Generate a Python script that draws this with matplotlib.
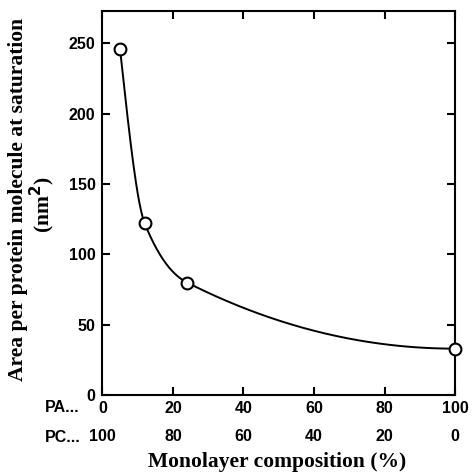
import numpy as np
import matplotlib.pyplot as plt

# PA content (%) and area per protein molecule at saturation (nm2)
pa_percent = [5, 12, 24, 100]
area_nm2 = [246, 122, 80, 33]

pa_ticks = [0, 20, 40, 60, 80, 100]
pc_labels = ['100', '80', '60', '40', '20', '0']
y_ticks = [0, 50, 100, 150, 200, 250]


def pchip_curve(x, y, n=400):
    # shape-preserving cubic through the points (same rules as scipy's PchipInterpolator)
    x = np.asarray(x, float)
    y = np.asarray(y, float)
    h = np.diff(x)
    d = np.diff(y) / h
    m = np.zeros_like(x)
    for k in range(1, len(x) - 1):
        if d[k - 1] * d[k] > 0:
            w1, w2 = 2 * h[k] + h[k - 1], h[k] + 2 * h[k - 1]
            m[k] = (w1 + w2) / (w1 / d[k - 1] + w2 / d[k])

    def end_slope(h0, h1, d0, d1):
        s = ((2 * h0 + h1) * d0 - h0 * d1) / (h0 + h1)
        if np.sign(s) != np.sign(d0):
            return 0.0
        if np.sign(d0) != np.sign(d1) and abs(s) > 3 * abs(d0):
            return 3 * d0
        return s

    m[0] = end_slope(h[0], h[1], d[0], d[1])
    m[-1] = end_slope(h[-1], h[-2], d[-1], d[-2])
    xs = np.linspace(x[0], x[-1], n)
    k = np.clip(np.searchsorted(x, xs) - 1, 0, len(h) - 1)
    t = (xs - x[k]) / h[k]
    ys = ((2 * t**3 - 3 * t**2 + 1) * y[k] + (t**3 - 2 * t**2 + t) * h[k] * m[k]
          + (-2 * t**3 + 3 * t**2) * y[k + 1] + (t**3 - t**2) * h[k] * m[k + 1])
    return xs, ys


sans = 'Liberation Sans'
serif = 'Liberation Serif'

fig = plt.figure(figsize=(4.74, 4.76), dpi=100)
ax = fig.add_axes([0.216, 0.17, 0.744, 0.807])

cx, cy = pchip_curve(pa_percent, area_nm2)
ax.plot(cx, cy, color='black', lw=1.4, clip_on=False)
ax.plot(pa_percent, area_nm2, 'o', ms=8.5, mfc='white', mec='black', mew=1.5, clip_on=False, zorder=3)

ax.set_xlim(0, 100)
ax.set_ylim(0, 273)
ax.set_xticks(pa_ticks)
ax.set_yticks(y_ticks)
ax.set_xticklabels([])
ax.set_yticklabels([str(v) for v in y_ticks], fontsize=11.5, fontweight='bold', family=sans)
ax.tick_params(direction='in', length=6, width=1.5, top=True, right=True, pad=5)
for s in ax.spines.values():
    s.set_linewidth(1.5)

tr = ax.get_xaxis_transform()
for v, pc in zip(pa_ticks, pc_labels):
    ax.text(v, -0.034, str(v), transform=tr, ha='center', va='center',
            fontsize=11.5, fontweight='bold', family=sans, clip_on=False)
    ax.text(v, -0.109, pc, transform=tr, ha='center', va='center',
            fontsize=11.5, fontweight='bold', family=sans, clip_on=False)
fig.text(0.132, 1 - 408 / 476, 'PA...', ha='center', va='center', fontsize=11.5, fontweight='bold', family=sans)
fig.text(0.132, 1 - 437 / 476, 'PC...', ha='center', va='center', fontsize=11.5, fontweight='bold', family=sans)

fig.text(0.585, 1 - 462 / 476, 'Monolayer composition (%)', ha='center', va='center',
         fontsize=15.5, fontweight='bold', family=serif)
fig.text(0.038, 0.582, 'Area per protein molecule at saturation', ha='center', va='center',
         rotation=90, fontsize=15.5, fontweight='bold', family=serif)
fig.text(0.09, 0.569, '(nm$^\\mathbf{2}$)', ha='center', va='center',
         rotation=90, fontsize=15.5, fontweight='bold', family=serif)

fig.savefig('out.png', dpi=100)
